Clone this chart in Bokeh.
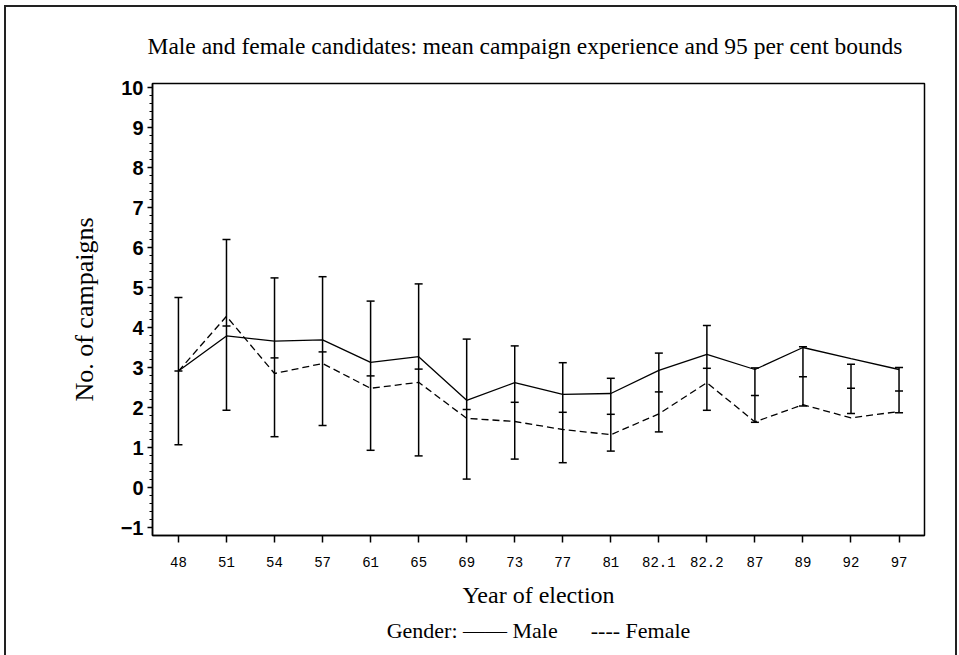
from bokeh.plotting import figure
from bokeh.models import (Range1d, FixedTicker, Whisker, TeeHead, ColumnDataSource,
                          Title)
from bokeh.embed import file_html
from bokeh.resources import INLINE

years = ["48", "51", "54", "57", "61", "65", "69", "73", "77", "81",
         "82.1", "82.2", "87", "89", "92", "97"]
male = [2.91, 3.79, 3.66, 3.69, 3.13, 3.27, 2.18, 2.62, 2.33, 2.35,
        2.93, 3.33, 2.95, 3.50, 3.22, 2.95]
female = [2.91, 4.28, 2.85, 3.10, 2.48, 2.63, 1.73, 1.65, 1.45, 1.32,
          1.84, 2.62, 1.64, 2.07, 1.74, 1.90]
upper = [4.75, 6.20, 5.24, 5.27, 4.66, 5.09, 3.71, 3.54, 3.12, 2.73,
         3.36, 4.05, 2.99, 3.52, 3.08, 3.00]
lower = [1.07, 1.93, 1.27, 1.55, 0.93, 0.79, 0.21, 0.71, 0.62, 0.91,
         1.39, 1.93, 1.63, 2.04, 1.85, 1.87]
mid = [2.91, 4.04, 3.24, 3.39, 2.79, 2.96, 1.95, 2.13, 1.88, 1.83,
       2.39, 2.98, 2.30, 2.77, 2.48, 2.41]
y_ticks = list(range(-1, 11))

idx = list(range(len(years)))
src = ColumnDataSource(dict(x=idx, male=male, female=female,
                            upper=upper, lower=lower, mid=mid))

p = figure(width=959, height=655, output_backend="svg", toolbar_location=None,
           x_range=Range1d(-0.54, 15.53), y_range=Range1d(-1.2, 10.1),
           min_border_left=152, min_border_right=35,
           min_border_top=83, min_border_bottom=120)

# page border (left, top, right) of the original figure, drawn behind a
# transparent border area of the canvas
p.styles = {
    "background-color": "white",
    "background-image": ("linear-gradient(#222, #222), linear-gradient(#222, #222), "
                         "linear-gradient(#222, #222)"),
    "background-size": "2px 100%, 952px 2px, 2px 100%",
    "background-position": "4px 6px, 4px 5px, 955px 6px",
    "background-repeat": "no-repeat",
}
p.border_fill_alpha = 0

p.line('x', 'male', source=src, line_color='black', line_width=1.3)
p.line('x', 'female', source=src, line_color='black', line_width=1.3,
       line_dash="7 4")
w = Whisker(source=src, base='x', upper='upper', lower='lower',
            line_color='black', line_width=1.5,
            upper_head=TeeHead(size=8, line_width=1.5, line_color='black'),
            lower_head=TeeHead(size=8, line_width=1.5, line_color='black'))
p.add_layout(w)
p.dash('x', 'mid', source=src, size=8, line_color='black', line_width=1.5)

p.xgrid.visible = False
p.ygrid.visible = False
p.outline_line_color = 'black'
p.outline_line_width = 1.5
p.background_fill_color = 'white'

# x axis
p.xaxis.ticker = FixedTicker(ticks=idx)
p.xaxis.major_label_overrides = {i: y for i, y in enumerate(years)}
p.xaxis.major_label_text_font = "Liberation Mono"
p.xaxis.major_label_text_font_size = "14px"
p.xaxis.major_label_text_color = "black"
p.xaxis.major_tick_in = 0
p.xaxis.major_tick_out = 7
p.xaxis.minor_tick_out = 0
p.xaxis.major_label_standoff = 14
p.xaxis.axis_label = "Year of election"
p.xaxis.axis_label_text_font = "Liberation Serif"
p.xaxis.axis_label_text_font_style = "normal"
p.xaxis.axis_label_text_font_size = "24px"
p.xaxis.axis_label_text_color = "black"
p.xaxis.axis_label_standoff = 12

# y axis
minor = [i / 5 for i in range(-5, 51)]
p.yaxis.ticker = FixedTicker(ticks=y_ticks, minor_ticks=minor)
p.yaxis.major_label_overrides = {-1: "\u22121"}
p.yaxis.major_label_text_font = "Liberation Sans"
p.yaxis.major_label_text_font_style = "bold"
p.yaxis.major_label_text_font_size = "20px"
p.yaxis.major_label_text_color = "black"
p.yaxis.major_tick_in = 0
p.yaxis.major_tick_out = 5
p.yaxis.minor_tick_in = 0
p.yaxis.minor_tick_out = 3
p.yaxis.major_label_standoff = 4
p.yaxis.axis_label = "No. of campaigns"
p.yaxis.axis_label_text_font = "Liberation Serif"
p.yaxis.axis_label_text_font_style = "normal"
p.yaxis.axis_label_text_font_size = "26px"
p.yaxis.axis_label_text_color = "black"
p.yaxis.axis_label_standoff = 19

for ax in (p.xaxis[0], p.yaxis[0]):
    ax.axis_line_color = 'black'
    ax.axis_line_width = 1.5
    ax.major_tick_line_color = 'black'
    ax.major_tick_line_width = 1.5
    ax.minor_tick_line_color = 'black'
    ax.minor_tick_line_width = 1.2

p.title.text = ("Male and female candidates: mean campaign experience "
                "and 95 per cent bounds")
p.title.align = "left"
p.title.offset = -5
p.title.text_font = "Liberation Serif"
p.title.text_font_style = "normal"
p.title.text_font_size = "23.5px"
p.title.text_color = "black"
p.title.standoff = 49

sp = "\u00a0"
legend = Title(text="Gender:" + sp + "\u2014\u2014" + sp + "Male" + sp * 6 + "----" + sp + "Female",
               align="center", text_font="Liberation Serif",
               text_font_style="normal", text_font_size="22px",
               text_color="black", standoff=10)
p.add_layout(legend, "below")

open("out.html", "w").write(file_html(p, INLINE))
